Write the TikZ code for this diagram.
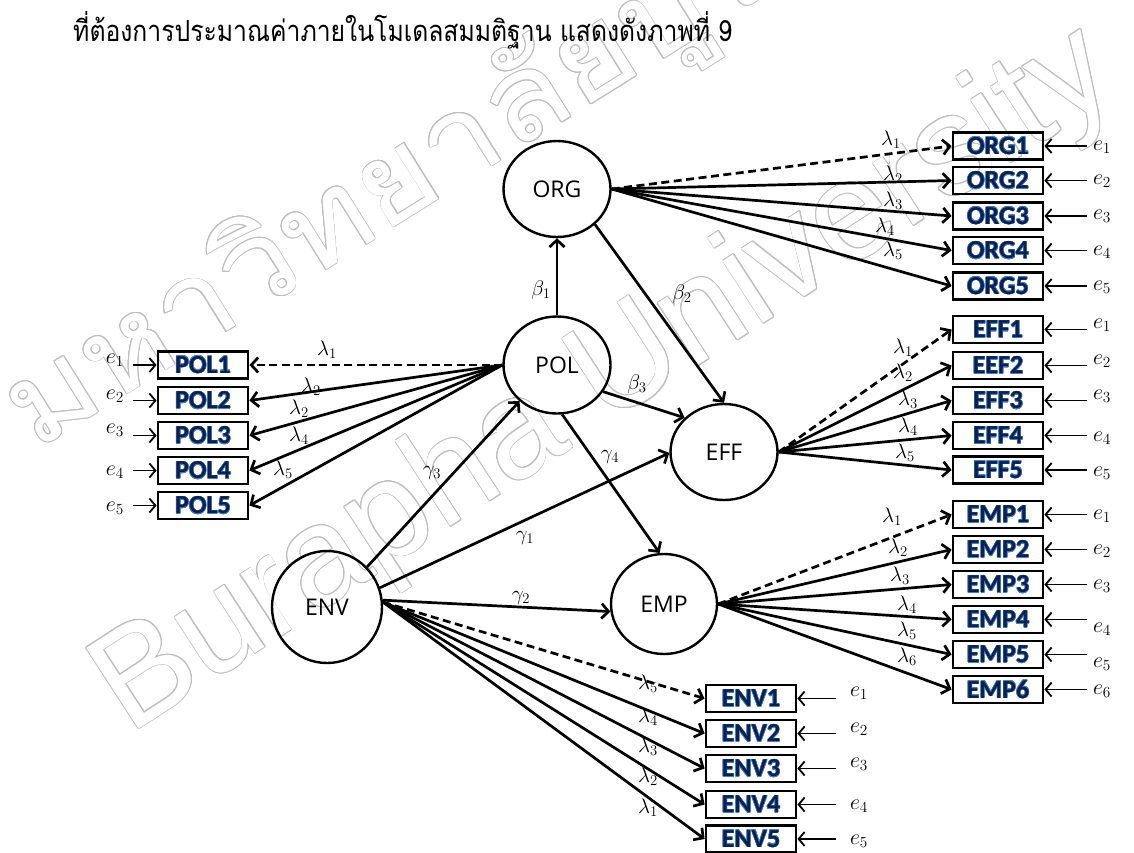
\documentclass[tikz,border=0pt]{standalone}
\usepackage{fix-cm}
\usepackage{fontspec}
\usepackage{graphicx}
\usepackage{contour}
\usetikzlibrary{shapes.geometric,arrows.meta}
\setmainfont{Liberation Serif}
\newfontfamily\thaifont[Script=Thai]{Loma}
\newfontfamily\latentfont{Open Sans}
\newfontfamily\boxfont{Carlito}
\newfontfamily\wmfont{Liberation Sans}
\definecolor{navy}{RGB}{12,32,78}
\definecolor{glow}{RGB}{70,125,200}
\definecolor{wm}{RGB}{190,190,190}
\contourlength{0.5pt}
\newcommand{\ind}[1]{\contour{glow}{#1}}
\newcommand{\wmtext}[1]{{\contourlength{0.8pt}\contour{wm}{\textcolor{white}{#1}}}}

\begin{document}
\begin{tikzpicture}[x=1pt,y=-1pt,
  latent/.style={ellipse, draw, line width=2.4pt, inner sep=0pt,
    font=\latentfont\fontsize{23}{26}\selectfont},
  indbox/.style={rectangle, draw, line width=2.8pt, minimum width=90pt,
    minimum height=27pt, inner sep=0pt, text=navy,
    font=\boxfont\bfseries\fontsize{26}{26}\selectfont},
  causal/.style={line width=2.7pt, -{Straight Barb[length=7pt,width=15pt]}},
  fixedload/.style={causal, dash pattern=on 8pt off 4.5pt},
  errarrow/.style={line width=1.8pt, -{Straight Barb[length=6pt,width=14pt]}},
  coef/.style={inner sep=0pt, font=\fontsize{21}{22}\selectfont},
  errlab/.style={inner sep=0pt, font=\fontsize{22}{24}\selectfont}]
\useasboundingbox (0,0) rectangle (1134,852);

% watermark
\node[rotate=33, inner sep=0pt, font=\wmfont\fontsize{140}{140}\selectfont] (wmL) at (606,383) {\wmtext{Burapha University}};
\node[rotate=32, inner sep=0pt, font=\thaifont\fontsize{118}{130}\selectfont] (wmT) at (458,150) {\scalebox{1.12}[1]{\wmtext{มหาวิทยาลัยบูรพา}}};

% heading line
\node[anchor=base west, inner sep=0pt] (title) at (73,41)
  {\resizebox{659pt}{30pt}{\thaifont\fontsize{24}{28}\selectfont ที่ต้องการประมาณค่าภายในโมเดลสมมติฐาน แสดงดังภาพที่ 9}};

% latent variables
\node[latent, minimum width=107pt, minimum height=96pt] (ORG) at (557,189) {ORG};
\node[latent, minimum width=107pt, minimum height=97pt] (POL) at (557,365) {POL};
\node[latent, minimum width=107pt, minimum height=96pt] (EFF) at (724,452) {EFF};
\node[latent, minimum width=106pt, minimum height=100pt] (EMP) at (664,604) {EMP};
\node[latent, minimum width=110pt, minimum height=112pt] (ENV) at (327,607) {ENV};

% structural paths
\draw[causal] (POL.north) -- (ORG.south);
\draw[causal] (ORG.-43) -- (EFF.north);
\draw[causal] (POL.-30) -- (EFF.139);
\draw[causal] (POL.-84) -- (EMP.95);
\draw[causal] (ENV.45) -- (POL.224);
\draw[causal] (ENV.20) -- (EFF.181);
\draw[causal] (ENV.7) -- (EMP.188);
\node[coef] (b1) at (541,290) {$\beta_1$};
\node[coef] (b2) at (682,294) {$\beta_2$};
\node[coef] (b3) at (637,384) {$\beta_3$};
\node[coef] (g4) at (610,457) {$\gamma_4$};
\node[coef] (g3) at (432,473) {$\gamma_3$};
\node[coef] (g1) at (525,538) {$\gamma_1$};
\node[coef] (g2) at (521,598) {$\gamma_2$};

% ORG indicators
\foreach \i/\y/\ey/\lx/\ly in {1/146/147/891/140,2/180.5/181/893/175,3/216/216/893/201,4/250.5/252/885/227,5/286/287/893/251} {
  \node[indbox] (ORG\i) at (998,\y) {\ind{ORG\i}};
  \coordinate (eORG\i) at (1087,\y);
  \node[errlab] (eORGl\i) at (1102,\ey) {$e_{\i}$};
  \draw[errarrow] (eORG\i) -- (ORG\i.east);
  \node[coef] (lORG\i) at (\lx,\ly) {$\lambda_{\i}$};
}
\draw[fixedload] (ORG.east) -- (ORG1.west);
\foreach \i in {2,...,5} \draw[causal] (ORG.east) -- (ORG\i.west);

% EFF indicators
\foreach \i/\t/\y/\ey/\lx/\ly in {1/EFF1/329.5/325/903/348,2/EEF2/365.5/361/903/373,3/EFF3/400.5/396/908/400,4/EFF4/435.5/438/908/427,5/EFF5/470/473/905/453} {
  \node[indbox] (EFF\i) at (998,\y) {\ind{\t}};
  \coordinate (eEFF\i) at (1087,\y);
  \node[errlab] (eEFFl\i) at (1102,\ey) {$e_{\i}$};
  \draw[errarrow] (eEFF\i) -- (EFF\i.east);
  \node[coef] (lEFF\i) at (\lx,\ly) {$\lambda_{\i}$};
}
\draw[fixedload] (EFF.east) -- (EFF1.west);
\foreach \i in {2,...,5} \draw[causal] (EFF.east) -- (EFF\i.west);

% EMP indicators
\foreach \i/\y/\ey/\lx/\ly in {1/514.5/516/892/517,2/549.5/551/898/548,3/584.5/586/900/576,4/619.5/629/907/605,5/654.5/664/907/631,6/689.5/691/907/657} {
  \node[indbox] (EMP\i) at (998,\y) {\ind{EMP\i}};
  \coordinate (eEMP\i) at (1087,\y);
  \node[errlab] (eEMPl\i) at (1102,\ey) {$e_{\i}$};
  \draw[errarrow] (eEMP\i) -- (EMP\i.east);
  \node[coef] (lEMP\i) at (\lx,\ly) {$\lambda_{\i}$};
}
\draw[fixedload] (EMP.east) -- (EMP1.west);
\foreach \i in {2,...,6} \draw[causal] (EMP.east) -- (EMP\i.west);

% POL indicators
\foreach \i/\y/\ey/\l/\lx/\ly in {1/365/360/1/327/350,2/400.5/396/2/311/387,3/435.5/430/2/299/409,4/470.5/472/4/299/436,5/505.5/508/5/283/470} {
  \node[indbox] (POL\i) at (203,\y) {\ind{POL\i}};
  \coordinate (ePOL\i) at (133,\y);
  \node[errlab] (ePOLl\i) at (115,\ey) {$e_{\i}$};
  \draw[errarrow] (ePOL\i) -- (POL\i.west);
  \node[coef] (lPOL\i) at (\lx,\ly) {$\lambda_{\l}$};
}
\draw[fixedload] (POL.west) -- (POL1.east);
\foreach \i in {2,...,5} \draw[causal] (POL.west) -- (POL\i.east);

% ENV indicators
\foreach \i/\y/\ey/\l/\ly in {1/698.5/693/5/684,2/733.5/729/4/717,3/768.5/764/3/747,4/804.5/806/2/777,5/839/841/1/808} {
  \node[indbox] (ENV\i) at (751,\y) {\ind{ENV\i}};
  \coordinate (eENV\i) at (836,\y);
  \node[errlab] (eENVl\i) at (859,\ey) {$e_{\i}$};
  \draw[errarrow] (eENV\i) -- (ENV\i.east);
  \node[coef] (lENV\i) at (648,\ly) {$\lambda_{\l}$};
}
\draw[fixedload] (ENV.5) -- (ENV1.west);
\foreach \i in {2,...,5} \draw[causal] (ENV.5) -- (ENV\i.west);
\end{tikzpicture}
\end{document}
